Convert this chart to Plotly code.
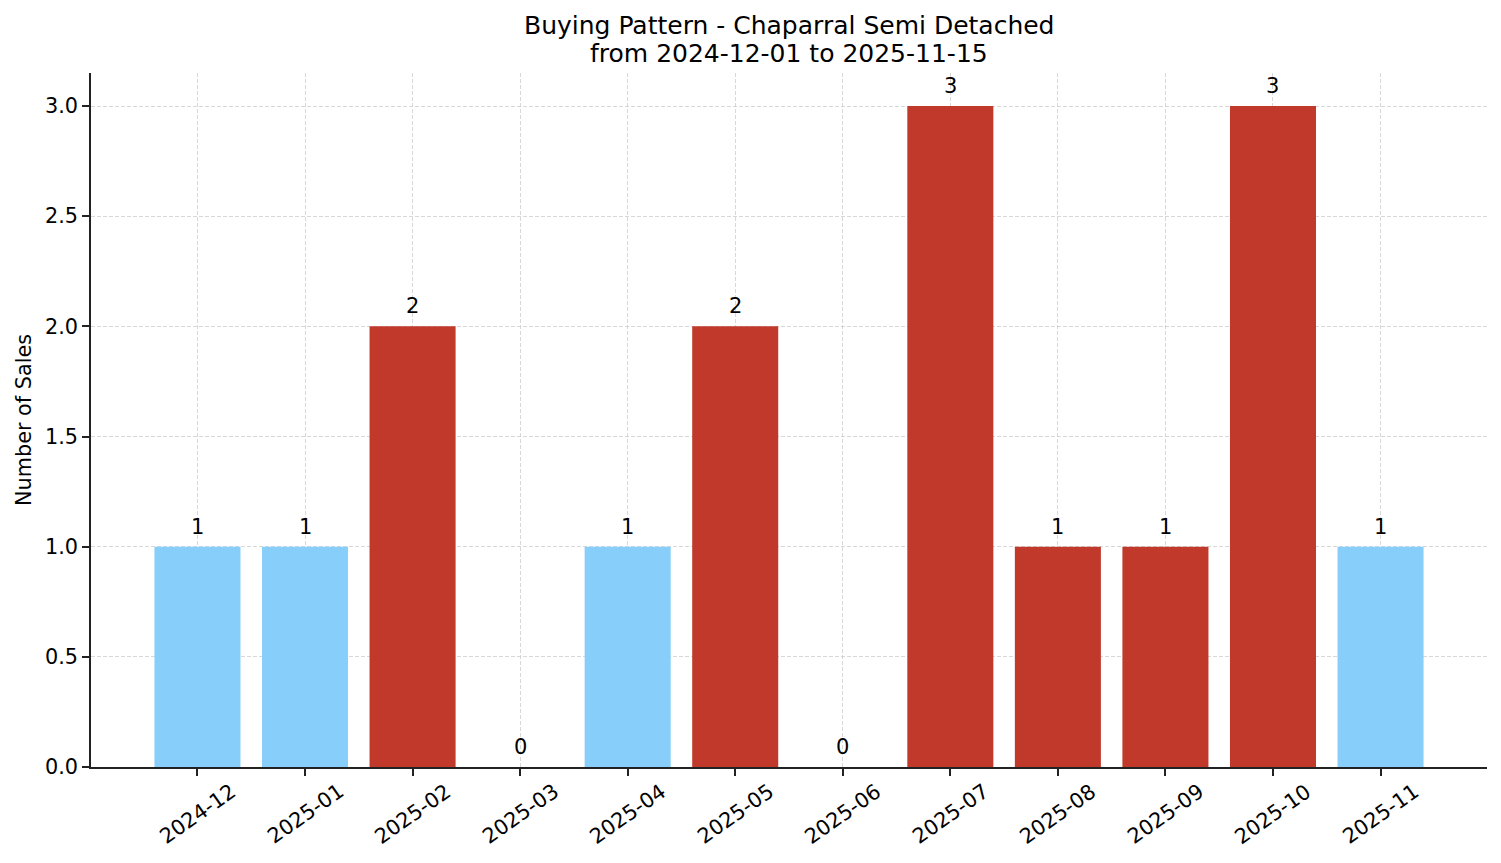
import plotly.graph_objects as go

# Monthly sales counts
months = ['2024-12', '2025-01', '2025-02', '2025-03', '2025-04', '2025-05',
          '2025-06', '2025-07', '2025-08', '2025-09', '2025-10', '2025-11']
sales = [1, 1, 2, 0, 1, 2, 0, 3, 1, 1, 3, 1]

# Bar colours (blue = normal month, red = highlighted month)
bar_colors = ['#87CEFA', '#87CEFA', '#C0392B', '#87CEFA', '#87CEFA', '#C0392B',
              '#87CEFA', '#C0392B', '#C0392B', '#C0392B', '#C0392B', '#87CEFA']

title_lines = ['Buying Pattern - Chaparral Semi Detached',
               'from 2024-12-01 to 2025-11-15']

FONT = 'DejaVu Sans'

fig = go.Figure()

fig.add_trace(go.Bar(
    x=months, y=sales,
    marker=dict(color=bar_colors, line=dict(width=0)),
    width=0.8,
    hoverinfo='x+y',
))

# Value labels on top of bars
for m, v in zip(months, sales):
    fig.add_annotation(
        x=m, y=v, xref='x', yref='y',
        text=str(v), showarrow=False,
        xanchor='center', yanchor='bottom',
        yshift=6,
        font=dict(family=FONT, size=21, color='black'),
    )

# Rotated month labels, centred under each tick like matplotlib
for m in months:
    fig.add_annotation(
        x=m, y=0, xref='x', yref='paper',
        text=m, showarrow=False,
        textangle=-35,
        xanchor='center', yanchor='top',
        yshift=-9,
        font=dict(family=FONT, size=20.8, color='black'),
    )

# Two-line title (tighter line spacing than plotly's default title)
for line, shift in zip(title_lines, [48, 20]):
    fig.add_annotation(
        x=0.5, y=1, xref='paper', yref='paper',
        text=line, showarrow=False,
        xanchor='center', yanchor='middle',
        yshift=shift,
        font=dict(family=FONT, size=25, color='black'),
    )

fig.update_layout(
    width=1493, height=855,
    margin=dict(l=83, r=14, t=65, b=96, autoexpand=False),
    plot_bgcolor='white',
    paper_bgcolor='white',
    showlegend=False,
    bargap=0.2,
    font=dict(family=FONT, size=20.8, color='black'),
)

fig.update_xaxes(
    type='category',
    range=[-0.99, 11.99],
    showticklabels=False,
    ticks='outside', ticklen=7, tickwidth=1.6, tickcolor='#222',
    showline=True, linecolor='#222', linewidth=1.6,
    showgrid=True, gridcolor='rgba(190,190,190,0.6)', griddash='4px,2px', gridwidth=0.8,
    layer='above traces',
    zeroline=False,
)

fig.update_yaxes(
    range=[0, 3.15],
    tickvals=[0, 0.5, 1.0, 1.5, 2.0, 2.5, 3.0],
    ticktext=['0.0', '0.5', '1.0', '1.5', '2.0', '2.5', '3.0'],
    ticks='outside', ticklen=7, tickwidth=1.6, tickcolor='#222',
    tickfont=dict(family=FONT, size=20.8, color='black'),
    showline=True, linecolor='#222', linewidth=1.6,
    showgrid=True, gridcolor='rgba(190,190,190,0.6)', griddash='4px,2px', gridwidth=0.8,
    layer='above traces',
    zeroline=False,
    title=dict(text='Number of Sales', font=dict(family=FONT, size=20.8, color='black'),
               standoff=8),
)

fig.write_html("out.html")
